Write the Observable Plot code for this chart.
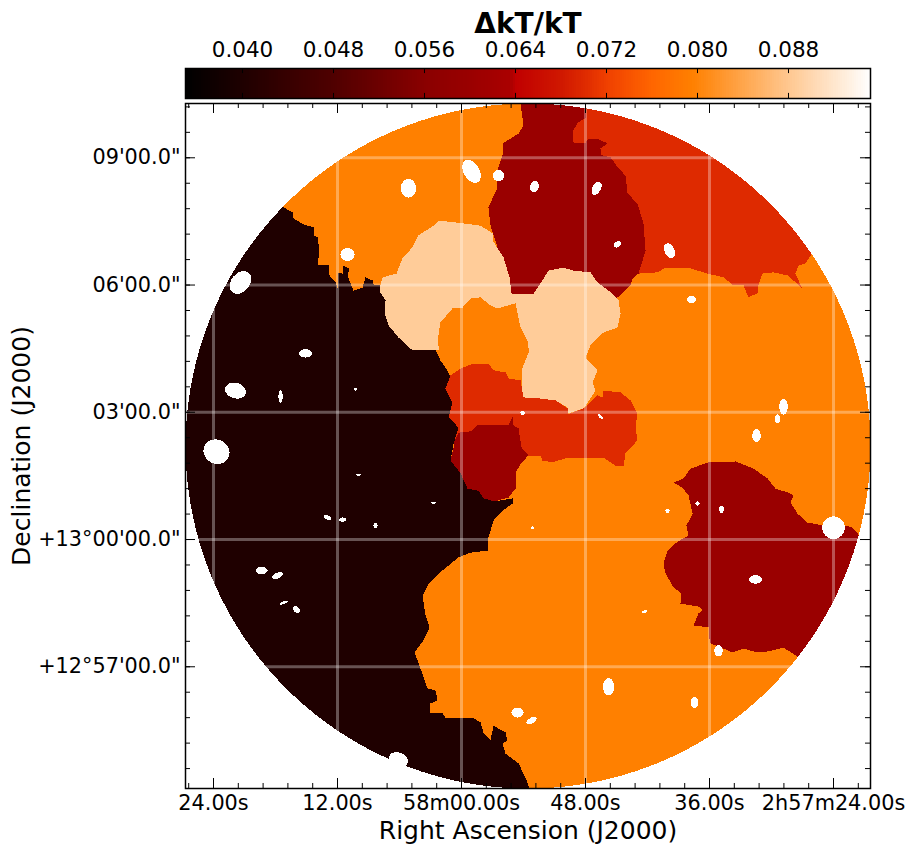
<!DOCTYPE html>
<html>
<head>
<meta charset="utf-8">
<script src="https://cdn.jsdelivr.net/npm/d3@7"></script>
<script src="https://cdn.jsdelivr.net/npm/@observablehq/plot@0.6"></script>
<style>
html,body{margin:0;padding:0;background:#fff;overflow:hidden}
svg{display:block}
</style>
</head>
<body>
<div id="chart"></div>
<script>
// Right ascension in seconds past 2h57m, declination in arcminutes from +13 deg.
const raTicks = [84, 72, 60, 48, 36, 24];
const raLabels = ["24.00s", "12.00s", "58m00.00s", "48.00s", "36.00s", "2h57m24.00s"];
const decTicks = [9, 6, 3, 0, -3];
const decLabels = ["09'00.0\"", "06'00.0\"", "03'00.0\"", "+13°00'00.0\"", "+12°57'00.0\""];
const cbTicks = [0.040, 0.048, 0.056, 0.064, 0.072, 0.080, 0.088];
const cbLabels = ["0.040", "0.048", "0.056", "0.064", "0.072", "0.080", "0.088"];

// Colour bar stops
const colorStops = [0.035, 0.040, 0.048, 0.056, 0.060, 0.0635, 0.064, 0.068, 0.070, 0.072, 0.076, 0.0795, 0.0885, 0.0952];
const colorRange = ["#000000", "#1f0000", "#500000", "#8a0000", "#9a0000", "#aa0000", "#c00000", "#d01800", "#de2a00", "#f04000", "#ff6600", "#ff8000", "#ffcc99", "#ffffff"];

// kT error of each region class
const vBlack = 0.040, vDark = 0.060, vRed = 0.070, vOrange = 0.0795, vPeach = 0.0885;

const raDomain = [86.71, 20.42];
const decDomain = [-5.87, 10.28];
const fieldCentre = [53.56, 2.205];
const fieldRadius = [33.14, 8.076];

const baseEdge = [[86.71,10.28],[20.42,10.28],[20.42,-5.87],[86.71,-5.87]];

const blackEdge = [[77.32,7.85],[76.35,7.71],[76.26,7.57],[75.29,7.43],[74.32,7.36],[74.32,7.17],[73.93,7.12],[73.74,6.81],[73.93,6.46],[72.87,6.48],[72.77,6.22],[72.19,6.06],[72.00,5.92],[71.90,6.30],[71.51,6.27],[71.42,6.46],[70.84,6.39],[71.03,6.22],[70.54,5.92],[70.45,5.87],[69.58,5.94],[69.29,6.18],[68.61,6.11],[68.51,6.01],[67.93,6.01],[67.84,5.82],[67.35,5.64],[67.45,5.33],[67.06,5.05],[66.09,4.76],[64.74,4.46],[62.51,4.46],[62.03,4.22],[61.06,3.87],[61.55,3.56],[60.87,3.23],[61.25,2.88],[60.29,2.64],[60.77,2.26],[61.06,1.86],[60.09,1.56],[59.42,1.20],[58.35,1.15],[57.87,0.97],[56.80,0.90],[55.06,0.97],[55.06,0.85],[56.03,0.68],[56.90,0.45],[57.39,0.05],[57.48,-0.26],[59.13,-0.31],[60.29,-0.42],[61.84,-0.73],[63.19,-1.04],[63.77,-1.32],[63.48,-1.79],[63.09,-2.07],[63.68,-2.38],[64.55,-2.66],[63.97,-3.04],[63.29,-3.51],[62.51,-3.56],[62.32,-3.80],[63.09,-3.87],[62.99,-4.10],[61.84,-4.10],[61.55,-4.20],[58.93,-4.20],[58.16,-4.31],[57.87,-4.55],[57.19,-4.72],[56.90,-4.39],[55.74,-4.55],[55.55,-4.74],[56.03,-4.81],[55.74,-5.05],[54.48,-5.28],[53.81,-5.61],[53.42,-5.87],[86.71,-5.87],[86.71,10.28]];

const redTopEdge = [[26.03,6.77],[26.71,6.51],[27.39,6.46],[27.68,6.27],[27.00,5.90],[28.35,6.22],[29.81,6.30],[30.87,6.27],[31.35,5.94],[31.26,5.82],[32.23,5.71],[32.71,5.99],[33.68,5.99],[34.65,6.18],[36.19,6.27],[37.84,6.39],[39.48,6.39],[40.26,6.41],[41.03,6.30],[42.87,6.27],[46.55,6.81],[50.42,10.12],[50.42,10.28],[20.42,10.28],[20.42,7.99]];

const darkTopEdge = [[54.29,10.28],[48.00,10.28],[48.00,9.93],[48.77,9.83],[49.26,9.60],[49.16,9.36],[48.00,9.34],[47.81,9.43],[46.84,9.45],[45.87,9.34],[46.55,9.22],[46.45,9.06],[45.58,9.01],[44.80,8.75],[44.13,8.58],[43.93,8.16],[42.97,7.92],[42.39,7.45],[42.19,6.81],[42.87,6.27],[43.45,6.15],[43.64,5.99],[44.80,5.71],[48.48,5.59],[55.26,5.75],[56.71,7.05],[57.19,7.40],[57.39,7.83],[56.52,8.30],[56.52,8.70],[56.03,9.06],[56.03,9.34],[54.48,9.57],[54.00,9.76]];

const peachEdge = [[67.84,6.01],[67.64,6.18],[66.29,6.27],[65.71,6.63],[64.74,6.89],[64.16,7.17],[62.71,7.40],[62.22,7.52],[60.39,7.47],[58.16,7.40],[56.99,7.22],[56.99,7.05],[55.93,6.65],[55.35,6.18],[55.16,5.80],[53.03,5.80],[52.35,6.04],[51.58,6.34],[50.13,6.41],[49.16,6.34],[47.52,6.30],[46.84,6.06],[45.77,5.87],[44.80,5.64],[44.61,5.33],[44.90,5.00],[46.26,4.88],[47.52,4.58],[48.00,4.29],[46.84,3.99],[47.32,3.70],[47.03,3.51],[48.19,3.09],[49.74,2.97],[49.74,3.11],[50.90,3.28],[52.55,3.33],[54.00,3.35],[54.29,3.75],[54.19,4.03],[53.52,4.39],[53.61,4.69],[54.29,5.00],[54.77,5.57],[59.13,4.46],[64.74,4.46],[66.09,4.76],[67.06,5.05],[67.45,5.33],[67.35,5.64],[67.84,5.82]];

const orangeInnerEdge = [[62.32,4.69],[62.03,5.12],[60.87,5.45],[59.90,5.47],[59.13,5.68],[58.16,5.71],[57.19,5.52],[56.52,5.45],[54.77,5.57],[54.29,5.00],[53.42,4.46],[54.09,4.06],[54.19,3.63],[58.16,3.63],[61.06,3.84],[62.03,4.29]];

const redCoreEdge = [[61.06,3.87],[60.09,4.03],[58.84,4.15],[57.39,4.15],[56.90,3.99],[55.74,3.94],[55.45,3.80],[54.29,3.75],[54.00,3.35],[52.55,3.33],[50.90,3.28],[49.74,3.09],[49.74,2.95],[48.19,3.09],[46.84,3.40],[46.35,3.35],[46.26,3.51],[44.61,3.47],[43.64,3.28],[42.97,2.97],[43.16,2.64],[42.97,2.34],[44.13,2.03],[44.32,1.74],[45.10,1.74],[46.26,1.93],[47.81,1.93],[49.74,1.93],[51.19,1.82],[52.16,1.86],[52.35,1.98],[53.52,1.98],[56.23,2.34],[60.77,2.26],[60.29,2.64],[61.25,2.88],[60.87,3.23],[61.55,3.56]];

const darkCoreEdge = [[60.29,2.52],[59.13,2.55],[58.45,2.69],[56.90,2.71],[55.45,2.69],[55.06,2.90],[54.97,2.69],[54.48,2.62],[54.19,2.17],[53.52,1.98],[54.29,1.79],[54.77,1.56],[54.77,1.20],[55.45,0.99],[56.80,0.90],[57.87,0.97],[58.35,1.15],[59.42,1.20],[60.09,1.56],[61.06,1.86],[60.77,2.17],[60.77,2.28]];

const darkRightEdge = [[39.48,1.34],[38.52,1.44],[37.84,1.67],[36.10,1.82],[33.48,1.84],[31.74,1.67],[30.39,1.44],[29.61,1.20],[28.45,1.11],[27.87,1.04],[28.16,0.87],[27.48,0.61],[26.52,0.40],[24.97,0.33],[22.84,0.33],[22.16,0.28],[21.48,0.09],[20.42,0.09],[20.42,-2.76],[27.48,-2.76],[28.84,-2.55],[30.39,-2.64],[31.74,-2.64],[32.71,-2.57],[33.77,-2.66],[35.90,-2.45],[36.10,-2.26],[36.00,-2.07],[37.55,-2.03],[37.06,-1.74],[36.68,-1.67],[37.06,-1.58],[38.81,-1.51],[38.71,-1.27],[39.48,-1.13],[40.26,-0.80],[40.45,-0.57],[40.06,-0.26],[39.10,-0.05],[38.03,0.09],[38.23,0.33],[37.64,0.61],[38.03,1.04],[38.61,1.22]];

// Masked point sources: ra, dec, semi-axes in arcsec, tilt in degrees
const sources = [
[65.13,8.28,11,13,0],[59.03,8.68,18,11,60],[56.42,8.58,8,8,0],[52.94,8.32,6,8,15],[71.03,6.72,10,9,0],
[75.10,4.39,9,6,0],[70.26,3.54,2,2,0],[77.51,3.37,3,9,0],[46.93,8.28,10,6,-60],[44.90,6.96,6,4,-30],
[39.87,6.81,11,7,65],[37.74,5.66,6,5,0],[81.39,6.06,18,13,-50],[81.87,3.51,15,11,15],[83.71,2.07,19,17,30],
[69.97,1.53,3,1.5,0],[72.97,0.52,6,3,25],[71.51,0.47,5,3,0],[68.32,0.33,3,4,0],[79.35,-0.73,8.5,5,0],
[77.80,-0.85,8,4,-25],[77.22,-1.49,6,2,-20],[75.97,-1.65,6,4,40],[62.71,0.87,4,1.5,0],[54.09,2.99,3,3,0],
[46.55,2.90,5,2,45],[53.13,0.28,2,2,0],[40.06,0.68,3,3,0],[42.29,-1.70,4,2,-30],[28.84,3.13,6,11,0],
[29.42,2.85,4,6,0],[31.45,2.45,6,9,0],[37.16,0.85,3,3,0],[34.84,0.71,3.5,5,0],[24.00,0.28,16,16,0],
[31.55,-0.94,9,6,0],[35.13,-2.62,6,8,0],[45.77,-3.47,8,12,0],[54.58,-4.08,8.5,7,0],[53.23,-4.27,8,4,-30],
[37.45,-3.84,5.5,8,0],[66.10,-5.19,14,10,20]
];

const regions = [
  [baseEdge, vOrange], [blackEdge, vBlack], [redTopEdge, vRed], [darkTopEdge, vDark],
  [peachEdge, vPeach], [orangeInnerEdge, vOrange], [redCoreEdge, vRed], [darkCoreEdge, vDark], [darkRightEdge, vDark]
];

const color = {type: "linear", domain: colorStops, range: colorRange, interpolate: "rgb"};
const font = {fontFamily: "'DejaVu Sans', sans-serif", background: "transparent", overflow: "visible"};

// ellipse outline of a masked source, in sky coordinates
const ARCSEC_RA = 0.0684, ARCSEC_DEC = 1 / 60;
const sourceRows = sources.flatMap(([ra, dec, rx, ry, tilt], id) => {
  const r = tilt * Math.PI / 180;
  return d3.range(24).map(i => {
    const t = i / 24 * 2 * Math.PI;
    const dx = rx * Math.cos(t), dy = ry * Math.sin(t);
    return {id, ra: ra - (dx * Math.cos(r) - dy * Math.sin(r)) * ARCSEC_RA,
            dec: dec - (dx * Math.sin(r) + dy * Math.cos(r)) * ARCSEC_DEC};
  });
});

// Everything outside the circular field of view is blank
const [r0, d0] = fieldCentre;
const maskRows = [
  [raDomain[0], decDomain[1]], [raDomain[1], decDomain[1]], [raDomain[1], decDomain[0]],
  [raDomain[0], decDomain[0]], [raDomain[0], d0],
  ...d3.range(0, 181).map(i => {
    const t = -i / 180 * 2 * Math.PI;
    return [r0 + fieldRadius[0] * Math.cos(t), d0 + fieldRadius[1] * Math.sin(t)];
  }),
  [raDomain[0], d0]
];

const raMinor = d3.range(86.4, 21, -2.4);
const decMinor = d3.range(10.2, -5.6, -0.6);
const tickRa = 0.236, tickRaMinor = 0.118, tickDec = 0.968, tickDecMinor = 0.484;

const regionMarks = regions.map(([edge, v]) =>
  Plot.line(edge, {x: d => d[0], y: d => d[1], fill: () => v, stroke: "none", shapeRendering: "crispEdges"}));

const map = Plot.plot({
  width: 913, height: 754,
  marginTop: 3, marginBottom: 66, marginLeft: 185, marginRight: 43,
  style: font,
  x: {domain: raDomain, axis: null},
  y: {domain: decDomain, axis: null},
  color,
  marks: [
    ...regionMarks,
    Plot.line(sourceRows, {x: "ra", y: "dec", z: "id", fill: "white", stroke: "none", shapeRendering: "crispEdges"}),
    Plot.line(maskRows, {x: d => d[0], y: d => d[1], fill: "white", stroke: "none", shapeRendering: "crispEdges"}),
    Plot.ruleX(raTicks, {stroke: "white", strokeOpacity: 0.32, strokeWidth: 3}),
    Plot.ruleY(decTicks, {stroke: "white", strokeOpacity: 0.32, strokeWidth: 3}),
    Plot.ruleX(raTicks, {y1: decDomain[0], y2: decDomain[0] + tickRa, stroke: "black"}),
    Plot.ruleX(raTicks, {y1: decDomain[1], y2: decDomain[1] - tickRa, stroke: "black"}),
    Plot.ruleX(raMinor, {y1: decDomain[0], y2: decDomain[0] + tickRaMinor, stroke: "black"}),
    Plot.ruleX(raMinor, {y1: decDomain[1], y2: decDomain[1] - tickRaMinor, stroke: "black"}),
    Plot.ruleY(decTicks, {x1: raDomain[0], x2: raDomain[0] - tickDec, stroke: "black"}),
    Plot.ruleY(decTicks, {x1: raDomain[1], x2: raDomain[1] + tickDec, stroke: "black"}),
    Plot.ruleY(decMinor, {x1: raDomain[0], x2: raDomain[0] - tickDecMinor, stroke: "black"}),
    Plot.ruleY(decMinor, {x1: raDomain[1], x2: raDomain[1] + tickDecMinor, stroke: "black"}),
    Plot.frame({stroke: "black", strokeWidth: 1.5}),
    Plot.axisX({anchor: "bottom", ticks: raTicks, tickSize: 0, tickPadding: 7, label: null, fontSize: 20.8,
      tickFormat: d => raLabels[raTicks.indexOf(d)]}),
    Plot.axisY({anchor: "left", ticks: decTicks, tickSize: 0, tickPadding: 5, label: null, fontSize: 20.8,
      tickFormat: d => decLabels[decTicks.indexOf(d)]}),
    Plot.text(["Right Ascension (J2000)"], {frameAnchor: "bottom", dy: 50, fontSize: 25, fill: "black"}),
    Plot.text(["Declination (J2000)"], {frameAnchor: "left", dx: -164, rotate: -90, textAnchor: "middle", fontSize: 25, fill: "black"})
  ]
});

const cbDomain = [0.03499, 0.09521];
const cbStep = 0.0002;
const cbBins = d3.range(cbDomain[0], cbDomain[1], cbStep);

const bar = Plot.plot({
  width: 913, height: 100,
  marginTop: 68, marginBottom: 2, marginLeft: 185, marginRight: 43,
  style: font,
  x: {domain: cbDomain, axis: null},
  y: {domain: [0, 1], axis: null},
  color,
  marks: [
    Plot.rect(cbBins, {x1: d => d, x2: d => d + cbStep, y1: 0, y2: 1, fill: d => d, shapeRendering: "crispEdges"}),
    Plot.ruleX(cbTicks, {y1: 1, y2: 0.83, stroke: "black"}),
    Plot.ruleX(cbTicks, {y1: 0, y2: 0.17, stroke: "black"}),
    Plot.frame({stroke: "black", strokeWidth: 1.5}),
    Plot.axisX({anchor: "top", ticks: cbTicks, tickSize: 0, tickPadding: 12, label: null, fontSize: 21.5,
      tickFormat: d => cbLabels[cbTicks.indexOf(d)]}),
    Plot.text(["\u0394kT/kT"], {frameAnchor: "top", dy: -55, fontSize: 28, fontWeight: "bold", fill: "black"})
  ]
});

document.getElementById("chart").append(bar, map);
</script>
</body>
</html>
